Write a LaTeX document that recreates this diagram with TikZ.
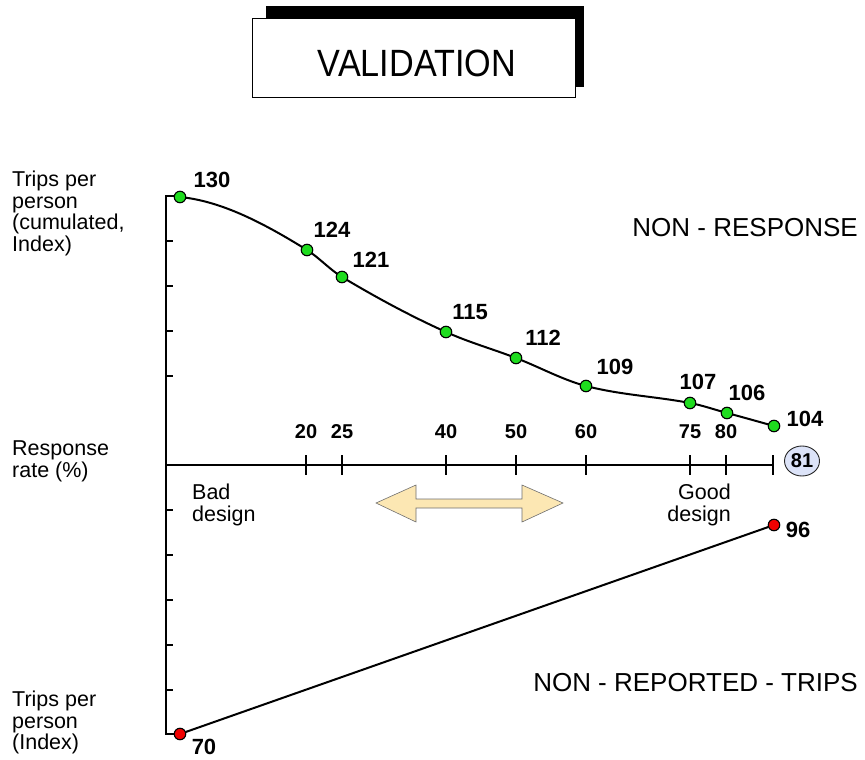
\documentclass[tikz,border=0pt]{standalone}
\usepackage{fontspec}
\setmainfont{Liberation Sans}
\usetikzlibrary{positioning,shapes.geometric}
\definecolor{dotgreen}{HTML}{1EDC1E}
\definecolor{dotred}{HTML}{F00000}
\definecolor{lightblue}{HTML}{DCE3F8}
\definecolor{lightyellow}{HTML}{FCE7B3}
\definecolor{grey}{HTML}{6F6F6F}

\begin{document}
\begin{tikzpicture}[x=1pt,y=-1pt,
  axis/.style={line width=2.1pt},
  curve/.style={line width=2pt},
  gdot/.style={circle,draw=black,fill=dotgreen,line width=1.1pt,minimum size=11.5pt,inner sep=0pt},
  rdot/.style={circle,draw=black,fill=dotred,line width=1.1pt,minimum size=11.5pt,inner sep=0pt},
  value/.style={font=\fontsize{22}{22}\selectfont\bfseries,inner sep=0pt},
  ticklabel/.style={font=\fontsize{20}{20}\selectfont\bfseries,inner sep=0pt},
  axislabel/.style={font=\fontsize{21.5}{21.5}\selectfont,align=left,inner sep=0pt,anchor=north west},
  heading/.style={font=\fontsize{26}{26}\selectfont,inner sep=0pt,anchor=east},
  rateend/.style={ellipse,draw=black!85,fill=lightblue,line width=0.9pt,minimum width=35pt,
                  minimum height=30pt,inner sep=0pt,font=\fontsize{20}{20}\selectfont\bfseries}
]
\useasboundingbox (0,0) rectangle (865,760);

% title box with shadow
\fill[black] (266,6) rectangle (584,87);
\draw[fill=white,line width=0.8pt] (252,18) rectangle (575,97);
\node[font=\fontsize{38}{38}\selectfont,inner sep=0pt] (title) at (417,63) {\scalebox{0.9}[1]{VALIDATION}};

% axes
\coordinate (top) at (166,196);
\coordinate (bottom) at (166,734);
\coordinate (origin) at (166,465);
\coordinate (rateaxis) at (773,465);
\draw[axis] (180,196) -- (top) -- (bottom) -- (180,734);
\draw[axis] (origin) -- (rateaxis);
\foreach \y in {241,286,331,376,510,555,600,645,690}
  \draw[axis] (166,\y) -- (173,\y);
\foreach \x/\r in {306/20,342/25,446/40,516/50,586/60,690/75,726/80}{
  \draw[axis] (\x,455) -- (\x,475);
  \node[ticklabel] (rate\r) at (\x,432) {\r};
}
\draw[axis] (773,455) -- (773,475);
\node[rateend] (rate81) at (802,461) {81};

% non-response curve
\coordinate (c130) at (180,197);
\coordinate (c124) at (307,250);
\coordinate (c121) at (342,277);
\coordinate (c115) at (446,332);
\coordinate (c112) at (516,358);
\coordinate (c109) at (586,386);
\coordinate (c107) at (690,403);
\coordinate (c106) at (727,413);
\coordinate (c104) at (774,426);
\draw[curve] (c130) .. controls (222.3,201.2) and (264.7,223.8) .. (c124)
  .. controls (318.7,257.3) and (330.3,270) .. (c121)
  .. controls (376.7,297.8) and (411.3,316.4) .. (c115)
  .. controls (469.3,342.5) and (492.7,349) .. (c112)
  .. controls (539.3,367) and (562.7,379.9) .. (c109)
  .. controls (620.7,395) and (655.3,396.4) .. (c107)
  .. controls (702.3,405.3) and (714.7,409.7) .. (c106)
  .. controls (742.7,417.2) and (758.3,421.6) .. (c104);
\foreach \v in {130,124,121,115,112,109,107,106,104}
  \node[gdot] (p\v) at (c\v) {};
\node[value] (v130) at (212,180) {130};
\node[value] (v124) at (332,230) {124};
\node[value] (v121) at (371,260) {121};
\node[value] (v115) at (470,312) {115};
\node[value] (v112) at (543,338) {112};
\node[value] (v109) at (615,367) {109};
\node[value] (v107) at (698,382) {107};
\node[value] (v106) at (747,393) {106};
\node[value] (v104) at (805,419) {104};

% non-reported trips
\node[rdot] (p70) at (180,734) {};
\node[rdot] (p96) at (774,525) {};
\draw[curve] (p70) -- (p96);
\node[value] (v70) at (204,747) {70};
\node[value] (v96) at (798,530) {96};

% texts
\node[axislabel] (yup) at (12,171) {Trips per\\person\\(cumulated,\\Index)};
\node[axislabel] (xlab) at (12,441) {Response\\rate (\%)};
\node[axislabel] (ydown) at (12,691) {Trips per\\person\\(Index)};
\node[axislabel] (bad) at (192,484) {Bad\\design};
\node[axislabel,align=right,anchor=north east] (good) at (731,484) {Good\\design};
\node[heading] (nonresp) at (858,228) {NON - RESPONSE};
\node[heading] (nonrep) at (858,683) {NON - REPORTED - TRIPS};

% design arrow
\draw[fill=lightyellow,draw=grey,line width=0.6pt] (376,503) -- (416,485) -- (416,499) -- (522,499)
  -- (522,485) -- (563,503) -- (522,522) -- (522,508) -- (416,508) -- (416,522) -- cycle;
\end{tikzpicture}
\end{document}
